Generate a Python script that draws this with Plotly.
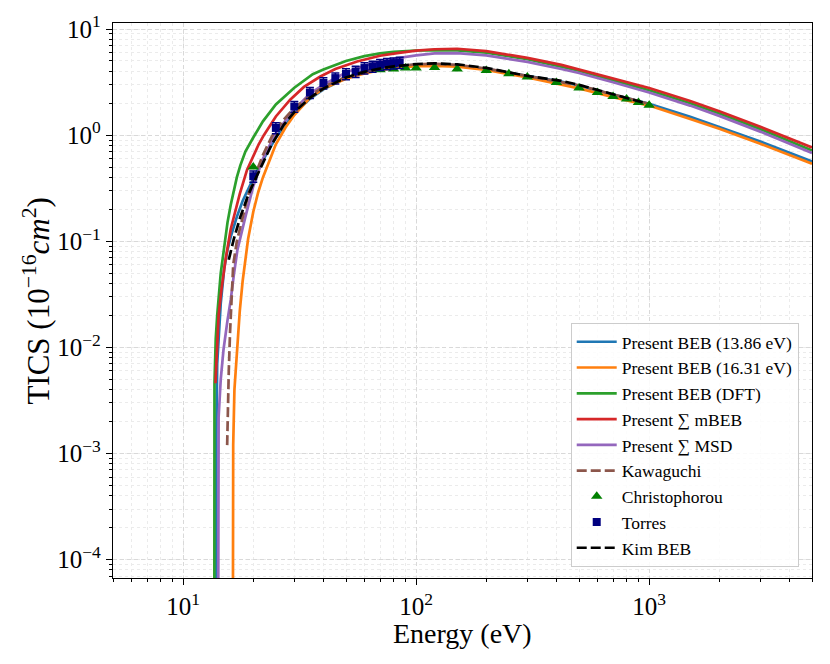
import plotly.graph_objects as go

# ---------------- data ----------------
E_beb1 = [13.86, 13.88, 14.0, 14.5, 15.0, 15.5, 16.0, 17.0, 18.0, 20.0, 22.0, 25.0, 30.0, 35.0, 40.0,
          50.0, 60.0, 70.0, 80.0, 100, 120, 150, 200, 300, 420, 500, 700, 1000, 1500, 2000, 3000, 5000]
S_beb1 = [1e-6, 0.0015, 0.007, 0.026, 0.055, 0.083, 0.11, 0.17, 0.24, 0.39, 0.58, 0.95, 1.6, 2.2, 2.7,
          3.45, 3.9, 4.2, 4.4, 4.62, 4.66, 4.56, 4.22, 3.6, 3.2, 2.92, 2.42, 1.97, 1.49, 1.2, 0.87, 0.565]

E_beb2 = [16.31, 16.33, 16.4, 16.6, 17.0, 17.5, 18.0, 19.0, 20.0, 21.0, 22.0, 23.0, 25.0, 27.5, 30.0,
          35.0, 40.0, 50.0, 60.0, 70.0, 80.0, 100, 120, 150, 200, 300, 400, 500, 700, 1000, 1500, 2000,
          3000, 5000]
S_beb2 = [1e-6, 3e-4, 1.2e-3, 4e-3, 9.5e-3, 0.022, 0.042, 0.105, 0.19, 0.29, 0.40, 0.52, 0.82, 1.18, 1.55,
          2.25, 2.75, 3.4, 3.82, 4.1, 4.28, 4.46, 4.5, 4.43, 4.12, 3.5, 3.08, 2.76, 2.28, 1.9, 1.42, 1.15,
          0.83, 0.537]

E_dft = [13.6, 13.63, 13.8, 14.0, 14.5, 15.0, 15.5, 16.0, 16.5, 17.0, 17.6, 18.5, 20.0, 22.0, 25.0, 30.0,
         36.0, 40.0, 50.0, 60.0, 70.0, 80.0, 100, 120, 150, 200, 300, 420, 500, 700, 1000, 1500, 2000,
         3000, 5000]
S_dft = [1e-6, 0.0046, 0.012, 0.02, 0.05, 0.09, 0.15, 0.22, 0.3, 0.4, 0.52, 0.70, 0.95, 1.35, 1.95, 2.8,
         3.75, 4.15, 5.0, 5.55, 5.9, 6.1, 6.28, 6.33, 6.28, 6.0, 5.2, 4.45, 4.05, 3.3, 2.65, 2.0, 1.6,
         1.14, 0.718]

E_mbeb = [13.76, 13.9, 14.2, 14.6, 15.2, 16.0, 16.8, 17.5, 18.8, 20.0, 21.1, 22.2, 25.0, 28.8, 33.0, 38.8,
          45.0, 55.8, 70.0, 82.8, 100, 120, 150, 200, 300, 420, 500, 700, 1000, 1500, 2000, 3000, 5000]
S_mbeb = [0.0046, 0.008, 0.02, 0.035, 0.067, 0.13, 0.2, 0.28, 0.47, 0.64, 0.82, 1.0, 1.5, 2.16, 2.85, 3.57,
          4.2, 4.95, 5.6, 5.94, 6.25, 6.45, 6.52, 6.2, 5.35, 4.6, 4.15, 3.42, 2.78, 2.1, 1.68, 1.2, 0.766]

E_msd = [14.1, 14.12, 14.2, 14.5, 14.9, 15.5, 16.0, 16.5, 17.1, 18.5, 20.0, 22.0, 25.0, 30.0, 35.0, 40.0,
         50.0, 60.0, 70.0, 80.0, 100, 120, 150, 200, 300, 420, 500, 700, 1000, 1500, 2000, 3000, 5000]
S_msd = [1e-6, 1e-3, 2.2e-3, 5e-3, 9.5e-3, 0.018, 0.028, 0.048, 0.083, 0.17, 0.33, 0.6, 1.05, 1.75, 2.45,
         3.0, 3.9, 4.5, 4.95, 5.25, 5.65, 5.9, 5.93, 5.65, 4.9, 4.2, 3.85, 3.15, 2.52, 1.9, 1.52, 1.08, 0.678]

E_kaw = [15.45, 15.55, 15.7, 15.9, 16.1, 16.4, 17.0, 18.0, 19.0, 20.0, 22.0, 24.0, 27.0, 30.0, 35.0, 40.0,
         50.0, 60.0, 70.0, 80.0, 100, 120, 150, 200, 300, 400, 500, 700, 900, 1000]
S_kaw = [0.0012, 0.003, 0.006, 0.014, 0.028, 0.06, 0.1, 0.17, 0.27, 0.38, 0.65, 0.97, 1.4, 1.8, 2.35, 2.85,
         3.55, 4.0, 4.28, 4.45, 4.65, 4.7, 4.6, 4.25, 3.6, 3.2, 2.95, 2.42, 2.08, 1.97]

E_chr = [20, 70, 80, 90, 100, 120, 150, 200, 250, 300, 400, 500, 600, 700, 800, 900, 1000]
S_chr = [0.50, 4.13, 4.2, 4.29, 4.29, 4.35, 4.2, 4.07, 3.79, 3.53, 3.14, 2.78, 2.52, 2.32, 2.19, 2.03, 1.91]

E_tor = [20, 25, 30, 35, 40, 45, 50, 55, 60, 65, 70, 75, 80, 85]
S_tor = [0.41, 1.17, 1.86, 2.52, 3.10, 3.45, 3.77, 3.98, 4.29, 4.45, 4.61, 4.71, 4.78, 4.84]
ERR_tor = [0.05, 0.14, 0.22, 0.30, 0.37, 0.41, 0.45, 0.48, 0.51, 0.53, 0.55, 0.57, 0.57, 0.58]

E_kim = [15.7, 16.5, 17.6, 19.0, 20.0, 22.0, 24.0, 27.0, 30.0, 35.0, 40.0, 50.0, 60.0, 70.0, 80.0, 100,
         120, 150, 200, 300, 420, 500, 700, 950]
S_kim = [0.067, 0.105, 0.17, 0.27, 0.35, 0.55, 0.82, 1.25, 1.65, 2.25, 2.75, 3.5, 3.95, 4.25, 4.45, 4.68,
         4.75, 4.65, 4.3, 3.62, 3.25, 2.98, 2.45, 2.02]

names = ["Present BEB (13.86 eV)", "Present BEB (16.31 eV)", "Present BEB (DFT)",
         "Present ∑ mBEB", "Present ∑ MSD", "Kawaguchi", "Christophorou", "Torres", "Kim BEB"]

x_title = "Energy (eV)"
y_title = "TICS (10<sup>−16</sup><i>cm</i><sup>2</sup>)"
x_ticks = [10, 100, 1000]
x_ticktext = ["10<sup>1</sup>", "10<sup>2</sup>", "10<sup>3</sup>"]
y_ticks = [1e-4, 1e-3, 1e-2, 1e-1, 1, 10]
y_ticktext = ["10<sup>−4</sup>", "10<sup>−3</sup>", "10<sup>−2</sup>", "10<sup>−1</sup>",
              "10<sup>0</sup>", "10<sup>1</sup>"]

# ---------------- figure ----------------
FONT = "Liberation Serif"
LW = 2.7
fig = go.Figure()

def line(x, y, name, color, dash="solid"):
    fig.add_trace(go.Scatter(x=x, y=y, name=name, mode="lines",
                             line=dict(color=color, width=LW, dash=dash)))

line(E_beb1, S_beb1, names[0], "#1f77b4")
line(E_beb2, S_beb2, names[1], "#ff7f0e")
line(E_dft, S_dft, names[2], "#2ca02c")
line(E_mbeb, S_mbeb, names[3], "#d62728")
line(E_msd, S_msd, names[4], "#9467bd")
line(E_kaw, S_kaw, names[5], "#8c564b", dash="10px,4px")

fig.add_trace(go.Scatter(x=E_chr, y=S_chr, name=names[6], mode="markers",
                         marker=dict(symbol="triangle-up", size=10, color="#008000")))
fig.add_trace(go.Scatter(x=E_tor, y=S_tor, name=names[7], mode="markers",
                         marker=dict(symbol="square", size=8, color="#000080"),
                         error_y=dict(type="data", array=ERR_tor, color="#000080",
                                      thickness=1.5, width=4)))
line(E_kim, S_kim, names[8], "#000000", dash="10px,4px")

axis_common = dict(type="log", showline=True, linecolor="black", linewidth=1.3, mirror=True,
                   automargin=False,
                   ticks="outside", ticklen=6, tickwidth=1.1, tickcolor="black",
                   showgrid=True, gridcolor="#d9d9d9", griddash="4px,3px", gridwidth=0.8,
                   zeroline=False, tickfont=dict(family=FONT, size=25, color="black"),
                   minor=dict(ticks="outside", ticklen=3, tickcolor="black", tickwidth=0.8,
                              showgrid=True, gridcolor="#ebebeb", griddash="3px,3px", gridwidth=0.7,
                              dtick="D1"))

fig.update_xaxes(**axis_common, range=[0.69897, 3.69897], tickmode="array",
                 tickvals=x_ticks, ticktext=x_ticktext)
fig.update_yaxes(**axis_common, range=[-4.173, 1.057], tickmode="array",
                 tickvals=y_ticks, ticktext=y_ticktext)

# axis titles as annotations for exact placement
fig.add_annotation(text=x_title, xref="paper", yref="paper", x=0.5, y=-0.069,
                   xanchor="center", yanchor="top", showarrow=False,
                   font=dict(family=FONT, size=28, color="black"))
fig.add_annotation(text=y_title, xref="paper", yref="paper", x=-0.11, y=0.5,
                   xanchor="center", yanchor="middle", textangle=-90, showarrow=False,
                   font=dict(family=FONT, size=31, color="black"))

# the page adds an 8px body margin, so the figure is a bit smaller than the window
fig.update_layout(
    width=822, height=656,
    margin=dict(l=105, r=18, t=15, b=86, autoexpand=False),
    plot_bgcolor="white", paper_bgcolor="white",
    font=dict(family=FONT, color="black"),
    legend=dict(x=0.981, y=0.02, xanchor="right", yanchor="bottom",
                bgcolor="rgba(255,255,255,0.85)", bordercolor="#cccccc", borderwidth=1,
                font=dict(family=FONT, size=17.5, color="black"), itemwidth=40),
    showlegend=True,
)

fig.write_html("out.html")
